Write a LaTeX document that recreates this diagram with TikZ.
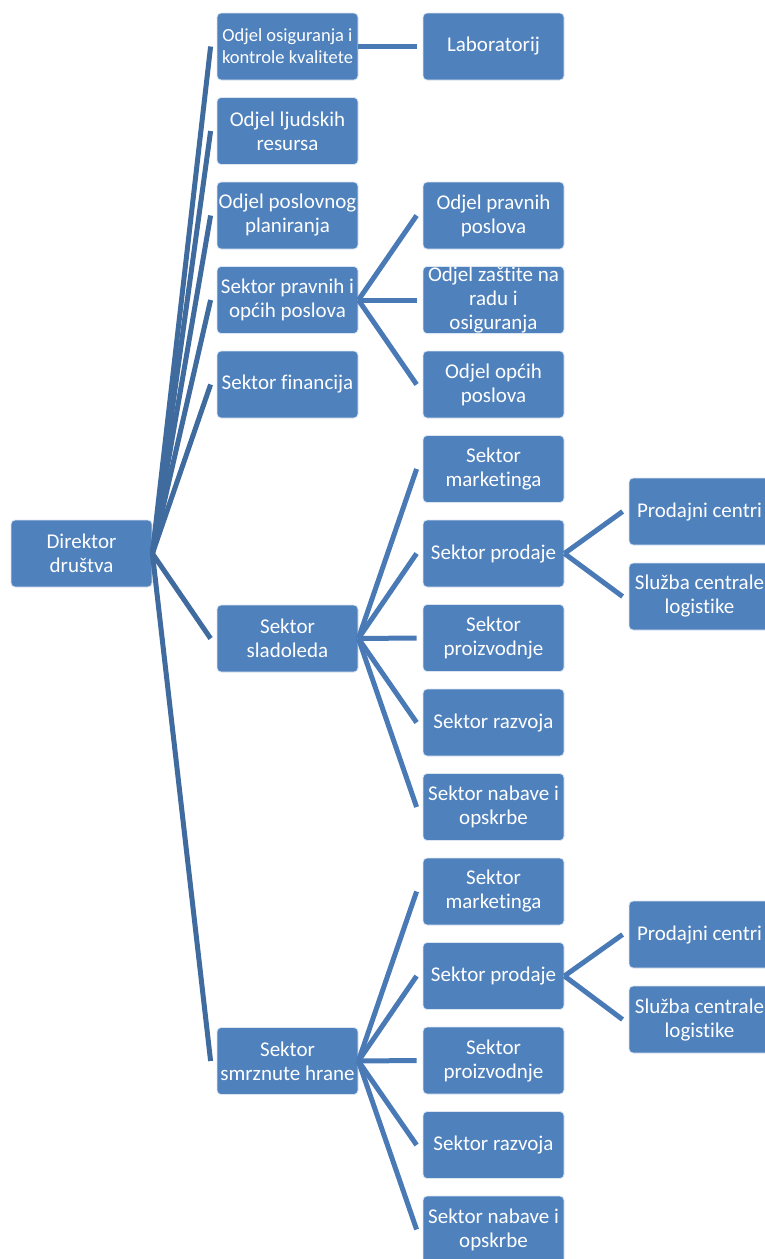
\documentclass[tikz,border=0pt]{standalone}
\usepackage{fontspec}
\setmainfont[RawFeature={-liga;-dlig;-clig}]{Carlito}
\definecolor{boxblue}{HTML}{4F81BD}
\definecolor{linkblue}{HTML}{4A7AB6}
\definecolor{rootlink}{HTML}{3F6B9F}
\tikzset{
  unit/.style={draw=white!80!boxblue, line width=0.8pt, fill=boxblue, rounded corners=4pt,
    minimum width=141pt, minimum height=67pt, inner sep=0.5pt, align=center, text=white,
    font=\fontsize{21}{24}\selectfont},
  smallunit/.style={unit, font=\fontsize{18.5}{22}\selectfont},
  link/.style={draw=linkblue, line width=5pt},
  rootline/.style={draw=rootlink, line width=5pt},
}
\begin{document}
\begin{tikzpicture}[x=1pt,y=-1pt]
\useasboundingbox (0,0) rectangle (765,1259);
\clip (0,0) rectangle (765,1259);
% Root
\node[unit] (dir) at (81.5,553.5) {Direktor\\društva};
% Column 1
\node[smallunit] (c1a) at (287.5,46.5) {Odjel osiguranja i\\kontrole kvalitete};
\node[unit] (c1b) at (287.5,131) {Odjel ljudskih\\resursa};
\node[unit] (c1c) at (287.5,215.5) {Odjel poslovnog\\planiranja};
\node[unit] (c1d) at (287.5,300) {Sektor pravnih i\\općih poslova};
\node[unit] (c1e) at (287.5,384.5) {Sektor financija};
\node[unit] (c1f) at (287.5,638.5) {Sektor\\sladoleda};
\node[unit] (c1g) at (287.5,1061) {Sektor\\smrznute hrane};
% Column 2
\node[unit] (lab) at (493.5,46.5) {Laboratorij};
\node[unit] (pp) at (493.5,215.5) {Odjel pravnih\\poslova};
\node[unit] (zr) at (493.5,300) {Odjel zaštite na\\radu i\\osiguranja};
\node[unit] (op) at (493.5,384.5) {Odjel općih\\poslova};
\node[unit] (m1) at (493.5,469) {Sektor\\marketinga};
\node[unit] (p1) at (493.5,553.5) {Sektor prodaje};
\node[unit] (pr1) at (493.5,638) {Sektor\\proizvodnje};
\node[unit] (r1) at (493.5,722.5) {Sektor razvoja};
\node[unit] (n1) at (493.5,807) {Sektor nabave i\\opskrbe};
\node[unit] (m2) at (493.5,891.5) {Sektor\\marketinga};
\node[unit] (p2) at (493.5,976) {Sektor prodaje};
\node[unit] (pr2) at (493.5,1060.5) {Sektor\\proizvodnje};
\node[unit] (r2) at (493.5,1145) {Sektor razvoja};
\node[unit] (n2) at (493.5,1229.5) {Sektor nabave i\\opskrbe};
% Column 3
\node[unit] (pc1) at (699.5,511.5) {Prodajni centri};
\node[unit] (sl1) at (699.5,596.5) {Služba centrale\\logistike};
\node[unit] (pc2) at (699.5,934.5) {Prodajni centri};
\node[unit] (sl2) at (699.5,1019.5) {Služba centrale\\logistike};
% Connectors from root
\foreach \c in {c1a,c1b,c1c,c1d,c1e,c1f,c1g}
  \draw[rootline] (dir.east) -- ([xshift=-6pt]\c.west);
% Level 2 connectors
\draw[link] (c1a.east) -- ([xshift=-6pt]lab.west);
\foreach \c in {pp,zr,op}
  \draw[link] (c1d.east) -- ([xshift=-6pt]\c.west);
\foreach \c in {m1,p1,pr1,r1,n1}
  \draw[link] (c1f.east) -- ([xshift=-6pt]\c.west);
\foreach \c in {m2,p2,pr2,r2,n2}
  \draw[link] (c1g.east) -- ([xshift=-6pt]\c.west);
% Level 3 connectors
\foreach \c in {pc1,sl1}
  \draw[link] (p1.east) -- ([xshift=-6pt]\c.west);
\foreach \c in {pc2,sl2}
  \draw[link] (p2.east) -- ([xshift=-6pt]\c.west);
\end{tikzpicture}
\end{document}
